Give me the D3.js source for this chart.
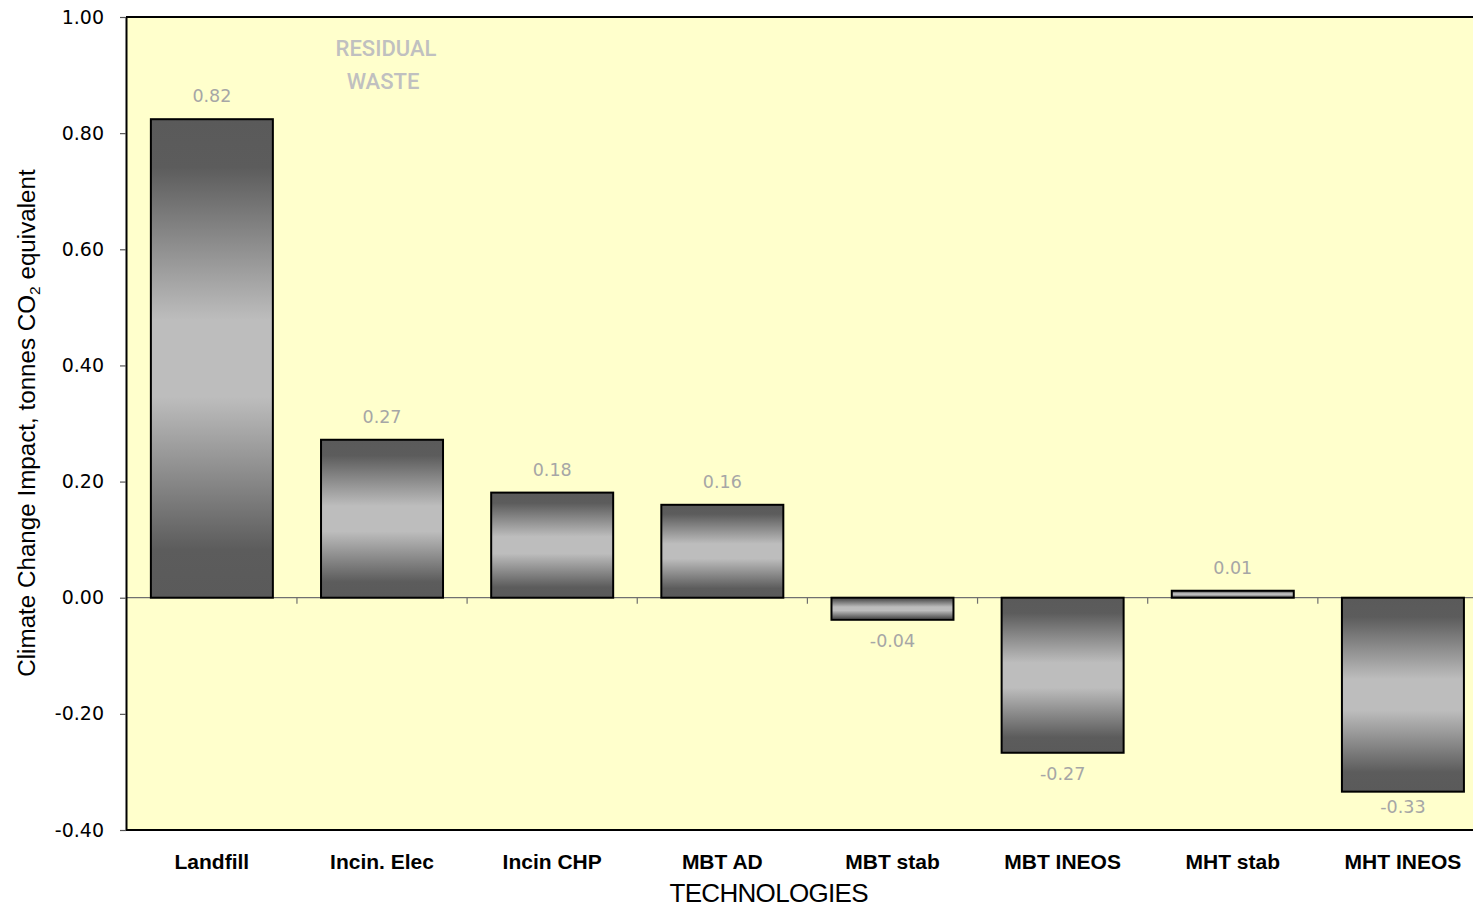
<!DOCTYPE html>
<html>
<head>
<meta charset="utf-8">
<script src="https://cdn.jsdelivr.net/npm/d3@7"></script>
<style>
  html, body { margin: 0; padding: 0; background: #ffffff; overflow: hidden; }
  svg { display: block; }
</style>
</head>
<body>
<svg id="chart" width="1473" height="910"></svg>
<script>
// Climate change impact of residual waste technologies
const categories = ["Landfill", "Incin. Elec", "Incin CHP", "MBT AD", "MBT stab", "MBT INEOS", "MHT stab", "MHT INEOS"];
const impacts = [0.824, 0.272, 0.181, 0.160, -0.038, -0.267, 0.012, -0.334];
const yTicks = [-0.40, -0.20, 0.00, 0.20, 0.40, 0.60, 0.80, 1.00];

const svg = d3.select("#chart");
const margin = { left: 126, top: 17, bottom: 830, right: 1488 };

const x = d3.scaleBand()
  .domain(categories)
  .range([margin.left + 0.8, margin.right])
  .paddingInner(0.283)
  .paddingOuter(0.1415);

const y = d3.scaleLinear().domain([-0.4, 1.0]).range([margin.bottom, margin.top]);

// vertical metallic gradient for the bars
const defs = svg.append("defs");
const grad = defs.append("linearGradient")
  .attr("id", "barGrad")
  .attr("x1", 0).attr("y1", 0).attr("x2", 0).attr("y2", 1);
[[0, "#5a5a5a"], [0.1, "#5c5c5c"], [0.42, "#bdbdbd"], [0.58, "#bdbdbd"], [0.9, "#5c5c5c"], [1, "#5a5a5a"]]
  .forEach(([o, c]) => grad.append("stop").attr("offset", o).attr("stop-color", c));

// plot background
svg.append("rect")
  .attr("x", margin.left).attr("y", margin.top)
  .attr("width", margin.right - margin.left)
  .attr("height", margin.bottom - margin.top)
  .attr("fill", "#ffffcc");

// zero line with category separators
const x0 = y(0);
svg.append("line")
  .attr("x1", margin.left).attr("x2", margin.right)
  .attr("y1", x0).attr("y2", x0)
  .attr("stroke", "#707070").attr("stroke-width", 1.2);

const step = x.step();
const sepX = d3.range(1, categories.length).map(i => x(categories[0]) - x.step() * x.paddingOuter() + step * i);
svg.append("g").selectAll("line").data(sepX).join("line")
  .attr("x1", d => d).attr("x2", d => d)
  .attr("y1", x0).attr("y2", x0 + 6)
  .attr("stroke", "#707070").attr("stroke-width", 1.2);

// bars
svg.append("g").selectAll("rect").data(categories).join("rect")
  .attr("x", d => x(d))
  .attr("width", x.bandwidth())
  .attr("y", (d, i) => y(Math.max(0, impacts[i])))
  .attr("height", (d, i) => Math.abs(y(impacts[i]) - y(0)))
  .attr("fill", "url(#barGrad)")
  .attr("stroke", "#000")
  .attr("stroke-width", 2);

// value labels (kept inside the plot area)
svg.append("g").selectAll("text").data(categories).join("text")
  .attr("x", d => x(d) + x.bandwidth() / 2)
  .attr("y", (d, i) => impacts[i] >= 0
    ? y(impacts[i]) - 17
    : Math.min(y(impacts[i]) + 27, margin.bottom - 17))
  .attr("text-anchor", "middle")
  .attr("font-family", "DejaVu Sans, sans-serif")
  .attr("font-size", 17.5)
  .attr("fill", "#a6a6a6")
  .text((d, i) => d3.format(".2f")(impacts[i]).replace("\u2212", "-"));

// frame: top and bottom borders
svg.append("line")
  .attr("x1", margin.left).attr("x2", margin.right)
  .attr("y1", margin.top).attr("y2", margin.top)
  .attr("stroke", "#000").attr("stroke-width", 2);
svg.append("line")
  .attr("x1", margin.left).attr("x2", margin.right)
  .attr("y1", margin.bottom).attr("y2", margin.bottom)
  .attr("stroke", "#000").attr("stroke-width", 2);

// y axis
const yAxis = svg.append("g")
  .attr("transform", `translate(${margin.left},0)`)
  .call(d3.axisLeft(y).tickValues(yTicks).tickFormat(d => d3.format(".2f")(d).replace("\u2212", "-")).tickSize(6).tickSizeOuter(0));
yAxis.select(".domain").attr("stroke", "#000").attr("stroke-width", 2);
yAxis.selectAll(".tick line").attr("stroke", "#555").attr("stroke-width", 1.2);
yAxis.selectAll(".tick text")
  .attr("x", -22)
  .attr("font-family", "DejaVu Sans, sans-serif")
  .attr("font-size", 19)
  .attr("fill", "#000");

// category labels
svg.append("g").selectAll("text").data(categories).join("text")
  .attr("x", d => x(d) + x.bandwidth() / 2)
  .attr("y", 869)
  .attr("text-anchor", "middle")
  .attr("font-family", "Liberation Sans, Arial, sans-serif")
  .attr("font-weight", "bold")
  .attr("font-size", 21)
  .attr("fill", "#000")
  .text(d => d);

// axis titles
svg.append("text")
  .attr("x", 769).attr("y", 902)
  .attr("text-anchor", "middle")
  .attr("font-family", "Liberation Sans Narrow, Liberation Sans, Arial, sans-serif")
  .attr("font-size", 26)
  .attr("textLength", 199)
  .attr("fill", "#000")
  .text("TECHNOLOGIES");

const yTitle = svg.append("text")
  .attr("transform", "translate(35,423) rotate(-90)")
  .attr("text-anchor", "middle")
  .attr("font-family", "Liberation Sans, Arial, sans-serif")
  .attr("font-size", 24.2)
  .attr("fill", "#000");
yTitle.append("tspan").text("Climate Change Impact, tonnes CO");
yTitle.append("tspan").attr("dy", 5).attr("font-size", 15.5).text("2");
yTitle.append("tspan").attr("dy", -5).text(" equivalent");

// annotation
const note = svg.append("text")
  .attr("text-anchor", "middle")
  .attr("font-family", "Roboto, sans-serif")
  .attr("font-weight", 500)
  .attr("font-size", 22)
  .attr("fill", "#c0c0c0");
note.append("tspan").attr("x", 386).attr("y", 56).text("RESIDUAL");
note.append("tspan").attr("x", 383).attr("y", 89).text("WASTE");
</script>
</body>
</html>
